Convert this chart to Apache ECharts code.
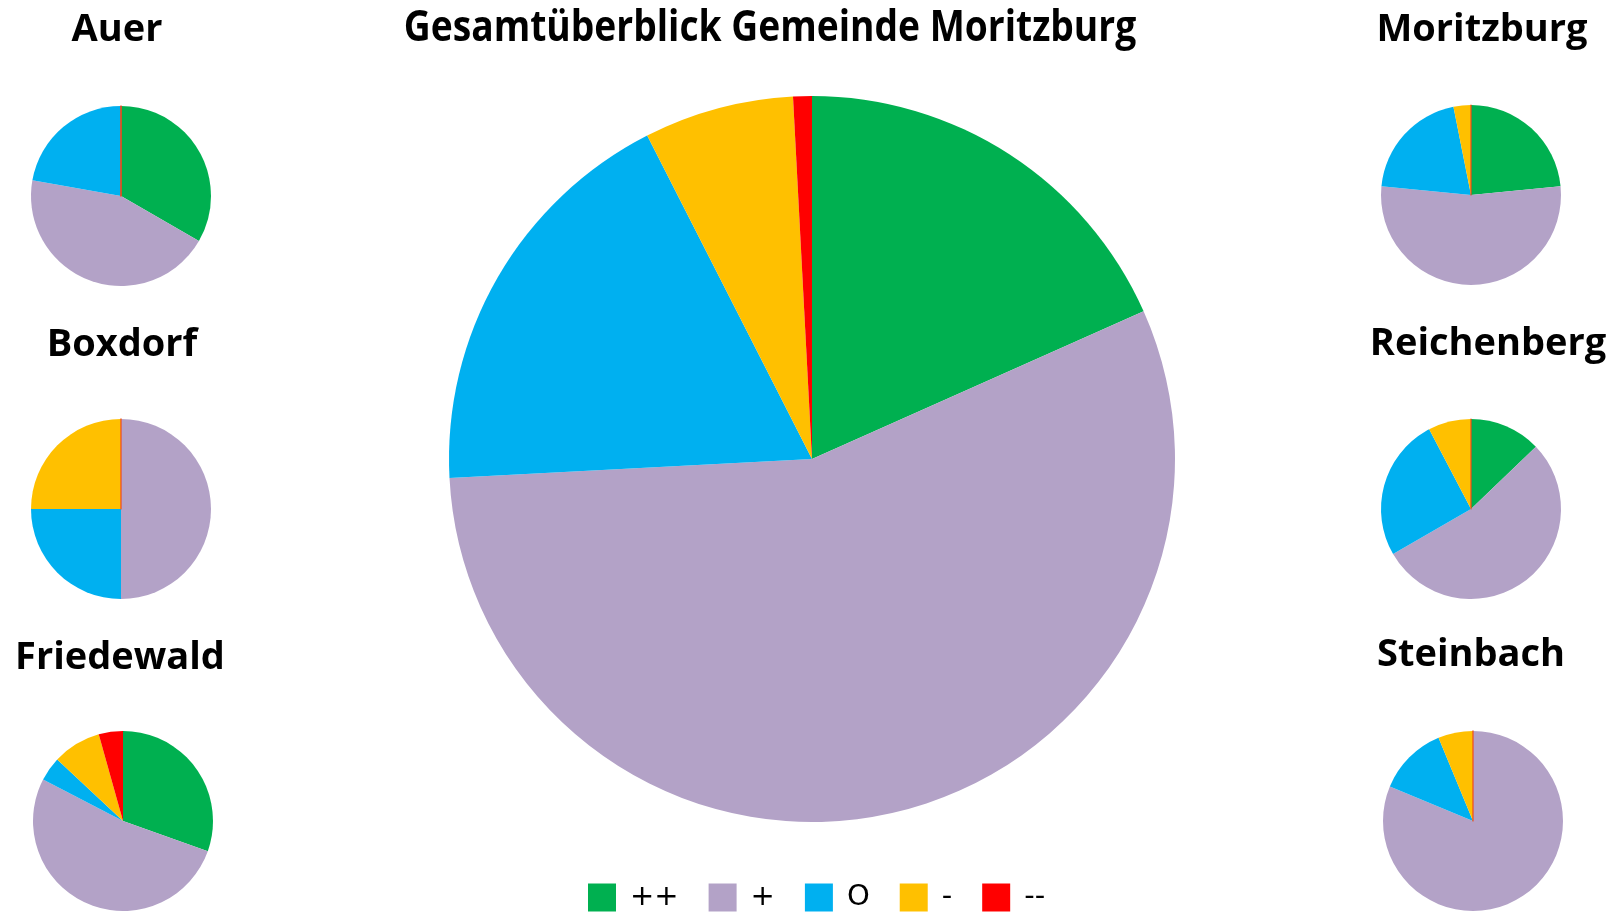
<!DOCTYPE html>
<html>
<head>
<meta charset="utf-8">
<script src="https://cdn.jsdelivr.net/npm/echarts@6/dist/echarts.min.js"></script>
<style>
  html, body { margin: 0; padding: 0; background: #fff; }
  #chart { width: 1614px; height: 914px; }
</style>
</head>
<body>
<div id="chart"></div>
<script>
// Kategorien (Bewertung)
const categories = ['++', '+', 'O', '-', '--']
const colors = ['#00B050', '#B3A2C7', '#00B0F0', '#FFC000', '#FF0000']

// Anzahl je Bewertung
const gesamt = [22, 67, 22, 8, 1]
const auer = [6, 8, 4, 0, 0]
const boxdorf = [0, 2, 1, 1, 0]
const friedewald = [7, 12, 1, 2, 1]
const moritzburg = [15, 34, 13, 2, 0]
const reichenberg = [5, 21, 10, 3, 0]
const steinbach = [0, 13, 2, 1, 0]

const mainTitle = 'Gesamtüberblick Gemeinde Moritzburg'

// Ortsteile: Name, Daten, Position
const districts = [
  { name: 'Auer', values: auer, center: [121, 196], title: [117, 30] },
  { name: 'Boxdorf', values: boxdorf, center: [121, 509], title: [122, 345] },
  { name: 'Friedewald', values: friedewald, center: [123, 821], title: [120, 658] },
  { name: 'Moritzburg', values: moritzburg, center: [1471, 195], title: [1482, 30] },
  { name: 'Reichenberg', values: reichenberg, center: [1471, 509], title: [1488, 344] },
  { name: 'Steinbach', values: steinbach, center: [1473, 821], title: [1471, 655] }
]

const chart = echarts.init(document.getElementById('chart'))

function buildData(values) {
  return values.map((v, i) => {
    const item = { name: categories[i], value: v }
    // Nullwerte erscheinen im Original als feine Linie
    if (v === 0) {
      item.itemStyle = { borderColor: '#F04A1C', borderWidth: 1.2 }
    }
    return item
  })
}

function pieSeries(values, center, radius) {
  return {
    type: 'pie',
    center: center,
    radius: radius,
    startAngle: 90,
    clockwise: true,
    silent: true,
    label: { show: false },
    labelLine: { show: false },
    itemStyle: { borderWidth: 0 },
    emphasis: { disabled: true },
    data: buildData(values)
  }
}

const titles = districts.map(d => ({
  text: d.name,
  left: d.title[0],
  top: d.title[1],
  padding: 0,
  textAlign: 'center',
  textVerticalAlign: 'middle',
  textStyle: {
    fontFamily: '"Open Sans", sans-serif',
    fontWeight: 'bold',
    fontSize: 38,
    color: '#000'
  }
}))

const series = [pieSeries(gesamt, [812, 459], 363)]
districts.forEach(d => {
  series.push(pieSeries(d.values, d.center, 90))
})

chart.setOption({
  animation: false,
  color: colors,
  title: titles,
  // Haupttitel schmaler gesetzt (Original: Calibri)
  graphic: [{
    type: 'text',
    x: 770,
    y: 29,
    scaleX: 0.865,
    silent: true,
    style: {
      text: mainTitle,
      font: 'bold 43px "Open Sans", sans-serif',
      fill: '#000',
      align: 'center',
      verticalAlign: 'middle'
    }
  }],
  legend: {
    data: categories,
    left: 588,
    top: 883,
    padding: 0,
    itemWidth: 28,
    itemHeight: 28,
    itemGap: 30,
    icon: 'rect',
    selectedMode: false,
    textStyle: {
      fontFamily: '"DejaVu Sans", sans-serif',
      fontSize: 29,
      color: '#000',
      padding: [5, 0, 0, 9]
    }
  },
  series: series
})
</script>
</body>
</html>
